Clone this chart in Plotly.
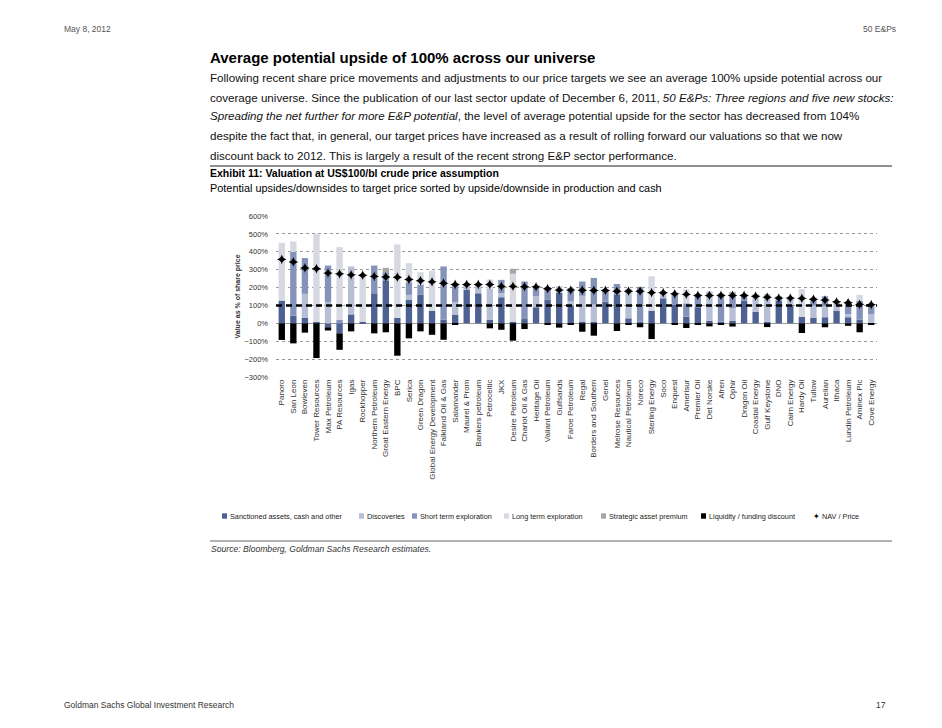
import plotly.graph_objects as go

companies = ["Panoro", "San Leon", "Bowleven", "Tower Resources", "Max Petroleum", "PA Resources", "Igas",
             "Rockhopper", "Northern Petroleum", "Great Eastern Energy", "BPC", "Serica", "Green Dragon",
             "Global Energy Development", "Falkland Oil & Gas", "Salamander", "Maurel & Prom", "Bankers petroleum",
             "Petroceltic", "JKX", "Desire Petroleum", "Chariot Oil & Gas", "Heritage Oil", "Valiant Petroleum",
             "Gulfsands", "Faroe Petroleum", "Regal", "Borders and Southern", "Genel", "Melrose Resources",
             "Nautical Petroleum", "Noreco", "Sterling Energy", "Soco", "Enquest", "Amerisur", "Premier Oil",
             "Det Norske", "Afren", "Ophir", "Dragon Oil", "Coastal Energy", "Gulf Keystone", "DNO",
             "Cairn Energy", "Hardy Oil", "Tullow", "Aurelian", "Ithaca", "Lundin Petroleum", "Aminex Plc",
             "Cove Energy"]

sanctioned = [127, 43, 30, 9, -22, -56, 50, 9, 168, 240, 30, 133, 159, 69, 20, 49, 189, 168, 20, 146, 9, 24, 90, 133,
              170, 99, 10, 9, 121, 159, 28, 9, 71, 140, 103, 37, 90, 15, 9, 15, 127, 65, 9, 127, 103, 37, 32, 34, 69,
              34, 20, 0]
discoveries = [0, 0, 135, 0, 118, 0, 268, 0, 0, 0, 0, 26, 0, 0, 0, 69, 31, 52, 172, 23, 0, 0, 61, 0,
               37, 24, 144, 96, 0, 0, 164, 0, 0, 38, 0, 0, 0, 163, 0, 69, 0, 96, 155, 0, 43, 0, 66, 61, 52,
               18, 0, 52]
short_term = [0, 357, 200, 0, 205, 19, 0, 0, 155, 46, 0, 71, 58, 0, 298, 102, 0, 0, 0, 74, 0, 210, 51, 69,
              0, 75, 80, 149, 68, 61, 0, 195, 0, 0, 67, 75, 74, 0, 157, 66, 37, 0, 0, 24, 0, 0, 33, 56, 0,
              66, 107, 56]
long_term = [323, 58, 0, 491, 0, 407, 0, 261, 0, 0, 411, 106, 69, 226, 0, 0, 0, 0, 53, 0, 268, 0, 0, 0,
             0, 0, 0, 0, 0, 0, 0, 0, 192, 0, 0, 77, 0, 0, 0, 0, 0, 0, 0, 0, 0, 155, 0, 0, 0,
             0, 32, 0]
strategic = [0, 0, 0, 0, 0, 0, 0, 0, 0, 24, 0, 0, 0, 0, 0, 0, 0, 0, 0, 0, 28, 0, 0, 0,
             0, 0, 0, 0, 0, 0, 0, 0, 0, 0, 0, 0, 0, 0, 0, 26, 0, 0, 0, 0, 0, 0, 0, 0, 0,
             0, 0, 0]
liquidity = [-93, -112, -52, -194, -18, -92, -45, 0, -56, -50, -181, -84, -45, -64, -92, -7, 0, 0, -28, -36, -97,
             -32, 0, -6, -24, -4, -47, -69, 0, -43, -9, -22, -88, 0, -5, -26, -8, -17, -6, -18, 0, 0, -21, 0, 0,
             -54, 0, -22, 0, -14, -50, -9]
nav_price = [358, 343, 310, 305, 281, 277, 271, 269, 263, 259, 258, 245, 238, 232, 224, 217, 217, 217, 217, 207,
             207, 205, 204, 194, 186, 186, 185, 184, 184, 180, 180, 180, 172, 171, 165, 162, 156, 156, 156, 156,
             156, 152, 146, 141, 141, 140, 135, 130, 120, 115, 106, 105]
average_upside = 100

series = [
    ("Sanctioned assets, cash and other", sanctioned, "#4d6192"),
    ("Discoveries", discoveries, "#b7bfd7"),
    ("Short term exploration", short_term, "#8593ba"),
    ("Long term exploration", long_term, "#d7d9e2"),
    ("Strategic asset premium", strategic, "#a6a6a6"),
    ("Liquidity / funding discount", liquidity, "#000000"),
]
nav_name = "NAV / Price"

fig = go.Figure()
for name, vals, col in series:
    fig.add_trace(go.Bar(x=companies, y=vals, name=name, marker=dict(color=col, line=dict(width=0))))
fig.add_trace(go.Scatter(x=companies, y=nav_price, name=nav_name, mode="markers",
                         marker=dict(symbol="star-diamond", size=7, color="#000000")))

fig.add_shape(type="line", xref="paper", yref="y", x0=0, x1=1, y0=average_upside, y1=average_upside,
              line=dict(color="#000000", width=2.6, dash="6px,4px"))

# plot area in screen pixels (page body has an 8px default margin)
OFF = 8
PL, PR, PT, PB = 276, 877, 216, 377
W, H = PR - PL, PB - PT


def px(x):
    return (x - PL) / W


def py(y):
    return (PB - y) / H


NARROW = "Liberation Sans Narrow, Arial Narrow, sans-serif"
SANS = "Liberation Sans, Arial, sans-serif"
anns = [
    dict(x=62, y=29, text="May 8, 2012", size=8.5, family=SANS, color="#555555", xa="left"),
    dict(x=898, y=29, text="50 E&Ps", size=8.5, family=SANS, color="#555555", xa="right"),
    dict(x=208, y=57, text="<b>Average potential upside of 100% across our universe</b>", size=15,
         family=NARROW, color="#000000", xa="left"),
    dict(x=208, y=77,
         text="Following recent share price movements and adjustments to our price targets we see an average 100% upside potential across our",
         size=11.6, family=NARROW, color="#111111", xa="left"),
    dict(x=208, y=97,
         text="coverage universe. Since the publication of our last sector update of December 6, 2011, <i>50 E&Ps: Three regions and five new stocks:</i>",
         size=11.6, family=NARROW, color="#111111", xa="left"),
    dict(x=208, y=116,
         text="<i>Spreading the net further for more E&P potential</i>, the level of average potential upside for the sector has decreased from 104%",
         size=11.6, family=NARROW, color="#111111", xa="left"),
    dict(x=208, y=136,
         text="despite the fact that, in general, our target prices have increased as a result of rolling forward our valuations so that we now",
         size=11.6, family=NARROW, color="#111111", xa="left"),
    dict(x=208, y=155,
         text="discount back to 2012. This is largely a result of the recent strong E&P sector performance.",
         size=11.6, family=NARROW, color="#111111", xa="left"),
    dict(x=208, y=173, text="<b>Exhibit 11: Valuation at US$100/bl crude price assumption</b>", size=10.5,
         family=NARROW, color="#000000", xa="left"),
    dict(x=208, y=188,
         text="Potential upsides/downsides to target price sorted by upside/downside in production and cash",
         size=10.9, family=NARROW, color="#000000", xa="left"),
    dict(x=209, y=549, text="<i>Source: Bloomberg, Goldman Sachs Research estimates.</i>", size=8.6,
         family=SANS, color="#333333", xa="left"),
    dict(x=62, y=705, text="Goldman Sachs Global Investment Research", size=8.5, family=SANS,
         color="#333333", xa="left"),
    dict(x=888, y=705, text="17", size=8.5, family=SANS, color="#333333", xa="right"),
]
for a in anns:
    fig.add_annotation(x=px(a["x"]), y=py(a["y"]), xref="paper", yref="paper", text=a["text"], showarrow=False,
                       xanchor=a["xa"], yanchor="middle",
                       font=dict(size=a["size"], family=a["family"], color=a["color"]))

fig.add_annotation(x=px(237), y=0.5, xref="paper", yref="paper", text="<b>Value as % of share price</b>",
                   textangle=-90, showarrow=False, font=dict(size=7, family=SANS, color="#333333"),
                   xanchor="center", yanchor="middle")

fig.add_shape(type="line", xref="paper", yref="paper", x0=px(210), x1=px(892), y0=py(166), y1=py(166),
              line=dict(color="#222222", width=1))
fig.add_shape(type="line", xref="paper", yref="paper", x0=px(210), x1=px(892), y0=py(541), y1=py(541),
              line=dict(color="#9a9a9a", width=1.5))

# legend drawn manually to match the compact original layout
legend_pos = [222, 359, 412, 504, 601, 701]
LY = 516
for (name, _, col), lx in zip(series, legend_pos):
    fig.add_shape(type="rect", xref="paper", yref="paper", x0=px(lx), x1=px(lx + 5),
                  y0=py(LY + 2.7), y1=py(LY - 2.7), line=dict(width=0), fillcolor=col)
    fig.add_annotation(x=px(lx + 5.5), y=py(LY), xref="paper", yref="paper", text=name, showarrow=False,
                       xanchor="left", yanchor="middle", font=dict(size=7.3, family=SANS, color="#222222"))
fig.add_annotation(x=px(816.5), y=py(LY), xref="paper", yref="paper", text="\u2726", showarrow=False,
                   xanchor="center", yanchor="middle", font=dict(size=8, family="DejaVu Sans", color="#000000"))
fig.add_annotation(x=px(820), y=py(LY), xref="paper", yref="paper", text=nav_name, showarrow=False,
                   xanchor="left", yanchor="middle", font=dict(size=7.3, family=SANS, color="#222222"))

fig.update_layout(
    width=942, height=728,
    margin=dict(l=PL - OFF, r=942 - (PR - OFF), t=PT - OFF, b=728 - (PB - OFF), autoexpand=False),
    paper_bgcolor="white", plot_bgcolor="white",
    barmode="relative", bargap=0.45,
    showlegend=False,
    font=dict(family=SANS, size=7, color="#333333"),
)
fig.update_xaxes(type="category", tickangle=-90, tickfont=dict(size=8, family=SANS, color="#333333"),
                 showgrid=False, ticks="", showline=False, range=[-0.5, len(companies) - 0.5])
fig.update_yaxes(range=[-300, 600], dtick=100, ticksuffix="%", showgrid=True, gridcolor="#9a9a9a",
                 griddash="3px,3px", gridwidth=0.7, zeroline=True, zerolinecolor="#9a9a9a", zerolinewidth=0.8,
                 tickfont=dict(size=7.5, family=SANS, color="#333333"), showline=False, ticks="",
                 ticklabelstandoff=7)

fig.write_html("out.html")
